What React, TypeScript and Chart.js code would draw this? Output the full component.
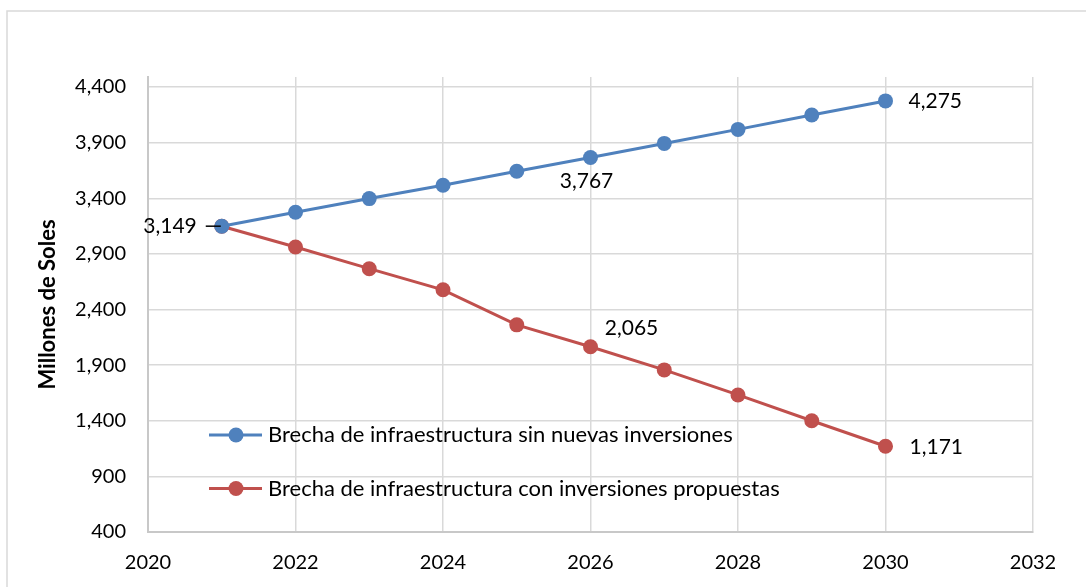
import React, { useEffect, useRef } from "react";
import { Chart, registerables } from "chart.js";

Chart.register(...registerables);

const years = [2021, 2022, 2023, 2024, 2025, 2026, 2027, 2028, 2029, 2030];
const sinInversiones = [3149, 3274, 3397, 3517, 3643, 3767, 3893, 4019, 4148, 4275];
const conInversiones = [3149, 2962, 2767, 2577, 2262, 2065, 1857, 1632, 1400, 1171];
const seriesNames = [
  "Brecha de infraestructura sin nuevas inversiones",
  "Brecha de infraestructura con inversiones propuestas",
];
const yTicks = [400, 900, 1400, 1900, 2400, 2900, 3400, 3900, 4400];
const xTicks = [2020, 2022, 2024, 2026, 2028, 2030, 2032];
const yTitle = "Millones de Soles";

// labelled points: [datasetIndex, pointIndex, dx, dy, align, leader]
const labelSpecs: [number, number, number, number, CanvasTextAlign, boolean][] = [
  [1, 0, -25, 0, "right", true],
  [0, 5, -4, 24, "center", false],
  [1, 5, 41, -19, "center", false],
  [0, 9, 23, 0, "left", false],
  [1, 9, 24, 1, "left", false],
];

const FONT = "Lato, 'Noto Sans', sans-serif";
const BLUE = "#4f81bd";
const RED = "#c0504d";
const GRID = "#d9d9d9";

export default function App() {
  const ref = useRef<HTMLCanvasElement>(null);

  useEffect(() => {
    if (!ref.current) return;
    const fmt = (v: number) => v.toLocaleString("en-US");

    const framePlugin = {
      id: "frame",
      beforeDraw(chart: any) {
        const ctx = chart.ctx;
        ctx.save();
        ctx.strokeStyle = GRID;
        ctx.lineWidth = 1.5;
        ctx.strokeRect(7, 11, 1200, 700);
        ctx.restore();
      },
    };

    const labelsPlugin = {
      id: "customLabels",
      afterDatasetsDraw(chart: any) {
        const ctx = chart.ctx;
        ctx.save();
        ctx.font = `21px ${FONT}`;
        ctx.fillStyle = "#000";
        ctx.textBaseline = "middle";
        for (const [di, pi, dx, dy, align, leader] of labelSpecs) {
          const el = chart.getDatasetMeta(di).data[pi];
          const x = el.x + dx;
          const y = el.y + dy;
          ctx.textAlign = align;
          ctx.fillText(fmt(chart.data.datasets[di].data[pi].y), x, y);
          if (leader) {
            ctx.strokeStyle = "#000";
            ctx.lineWidth = 1.5;
            ctx.beginPath();
            ctx.moveTo(el.x - 16, el.y);
            ctx.lineTo(el.x - 1, el.y);
            ctx.stroke();
          }
        }
        ctx.restore();
      },
    };

    const legendPlugin = {
      id: "innerLegend",
      afterDraw(chart: any) {
        const ctx = chart.ctx;
        const area = chart.chartArea;
        ctx.save();
        ctx.font = `22px ${FONT}`;
        ctx.textBaseline = "middle";
        ctx.textAlign = "left";
        chart.data.datasets.forEach((ds: any, i: number) => {
          const y = area.top + 358 + i * 53.5;
          const x0 = area.left + 61;
          ctx.strokeStyle = ds.borderColor;
          ctx.lineWidth = 3;
          ctx.beginPath();
          ctx.moveTo(x0, y);
          ctx.lineTo(x0 + 53, y);
          ctx.stroke();
          ctx.fillStyle = ds.backgroundColor;
          ctx.beginPath();
          ctx.arc(x0 + 27, y, 7.5, 0, Math.PI * 2);
          ctx.fill();
          ctx.fillStyle = "#000";
          ctx.fillText(ds.label, x0 + 59, y);
        });
        ctx.restore();
      },
    };

    const chart = new Chart(ref.current, {
      type: "line",
      data: {
        datasets: [
          {
            label: seriesNames[0],
            data: years.map((x, i) => ({ x, y: sinInversiones[i] })),
            borderColor: BLUE,
            backgroundColor: BLUE,
            borderWidth: 3,
            pointRadius: 7.5,
            pointBorderWidth: 0,
            pointBackgroundColor: BLUE,
          },
          {
            label: seriesNames[1],
            data: years.map((x, i) => ({ x, y: conInversiones[i] })),
            borderColor: RED,
            backgroundColor: RED,
            borderWidth: 3,
            pointRadius: 7.5,
            pointBorderWidth: 0,
            pointBackgroundColor: RED,
          },
        ],
      },
      options: {
        responsive: false,
        animation: false,
        layout: { padding: { left: 0, top: 77, right: 53, bottom: 0 } },
        plugins: {
          legend: { display: false },
          tooltip: { enabled: false },
        },
        scales: {
          x: {
            type: "linear",
            min: 2020,
            max: 2032,
            afterBuildTicks: (s: any) => {
              s.ticks = xTicks.map((v) => ({ value: v }));
            },
            afterFit: (s: any) => {
              s.height = 55;
            },
            ticks: {
              color: "#000",
              font: { family: FONT, size: 20 },
              padding: 19,
              maxRotation: 0,
              callback: (v: any) => String(v),
            },
            grid: { color: GRID, lineWidth: 1.5, drawTicks: false },
            border: { color: "#c8c8c8", width: 2 },
          },
          y: {
            type: "linear",
            min: 400,
            max: 4490,
            afterBuildTicks: (s: any) => {
              s.ticks = yTicks.map((v) => ({ value: v }));
            },
            afterFit: (s: any) => {
              s.width = 148;
            },
            ticks: {
              color: "#000",
              font: { family: FONT, size: 20 },
              padding: 22,
              callback: (v: any) => fmt(Number(v)),
            },
            grid: { color: GRID, lineWidth: 1.5, drawTicks: false },
            border: { color: "#c8c8c8", width: 2 },
            title: {
              display: true,
              text: yTitle,
              color: "#000",
              font: { family: FONT, size: 22, weight: "bold" },
              padding: { top: 35, bottom: 0 },
            },
          },
        },
      },
      plugins: [framePlugin, labelsPlugin, legendPlugin],
    } as any);

    return () => chart.destroy();
  }, []);

  return (
    <div style={{ position: "fixed", left: 0, top: 0, width: 1086, height: 587, background: "#fff" }}>
      <canvas ref={ref} width={1086} height={587} style={{ width: 1086, height: 587, display: "block" }} />
    </div>
  );
}
